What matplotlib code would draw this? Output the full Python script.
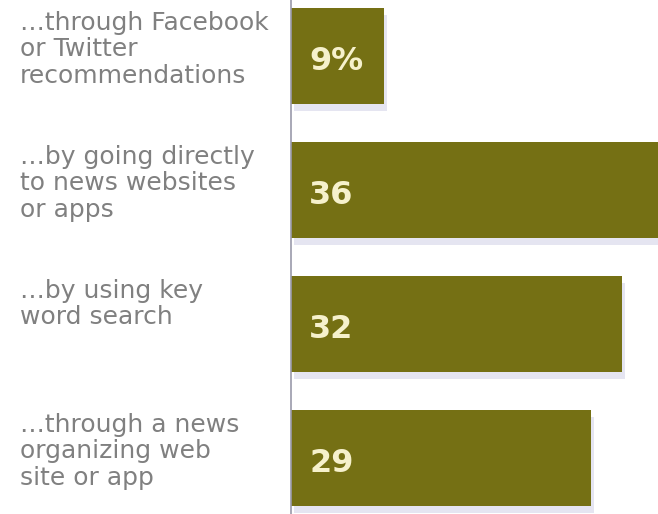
import matplotlib.pyplot as plt
from matplotlib import patheffects as pe

labels = [
    "\u2026through Facebook\nor Twitter\nrecommendations",
    "\u2026by going directly\nto news websites\nor apps",
    "\u2026by using key\nword search",
    "\u2026through a news\norganizing web\nsite or app",
]
values = [9, 36, 32, 29]
value_text = ["9%", "36", "32", "29"]

W, H = 658, 514
fig = plt.figure(figsize=(W / 100, H / 100), dpi=100)
# axes spans from the baseline line at x=291 to the right edge; bars pitch 134px
ax = fig.add_axes([291 / W, -11 / H, (W - 291) / W, 536 / H])

bar_color = "#757014"
shadow = [pe.SimplePatchShadow(offset=(2, -5), shadow_rgbFace="#c0c0dc", alpha=0.4), pe.Normal()]
ypos = list(range(len(values)))
bars = ax.barh(ypos, values, height=96 / 134, color=bar_color, path_effects=shadow)

for y, txt in zip(ypos, value_text):
    ax.text(1.75, y + 0.04, txt, color="#f6f1cc", fontsize=23, fontweight="bold",
            va="center", ha="left")

ax.set_xlim(0, 35.46)
ax.set_ylim(3.5, -0.5)
ax.set_xticks([])
ax.set_yticks([])
for s in ["top", "right", "bottom"]:
    ax.spines[s].set_visible(False)
ax.spines["left"].set_color("#9a9aaa")
ax.spines["left"].set_linewidth(1.2)
ax.set_facecolor("none")

# category labels, top-aligned a little below each bar's top edge
for y, lab in zip(ypos, labels):
    ytop = y - 48 / 134 + 3 / 134
    ax.text(-26.2, ytop, lab, color="#808080", fontsize=18, ha="left", va="top",
            linespacing=1.13, clip_on=False)

fig.savefig("out.png", dpi=100)
